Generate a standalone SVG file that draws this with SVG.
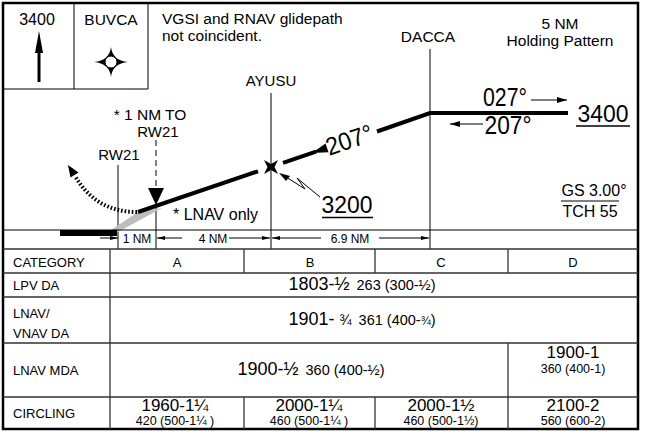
<svg xmlns="http://www.w3.org/2000/svg" width="649" height="436" viewBox="0 0 649 436">
<style>
text{font-family:"Liberation Sans",Arial,sans-serif;fill:#000}
.t15{font-size:15.5px}
.tbl{font-size:13px}
.big{font-size:17px}
.sm{font-size:12.5px}
.grid{stroke:#333;stroke-width:1.3;fill:none}
.thin{stroke:#000;stroke-width:1;fill:none}
.gp{stroke:#000;stroke-width:4;fill:none}
</style>
<defs>
<marker id="ah" viewBox="0 0 10 6" refX="10" refY="3" markerWidth="10" markerHeight="6" markerUnits="userSpaceOnUse" orient="auto"><path d="M0,0 L10,3 L0,6 Z" fill="#000"/></marker>
<marker id="ahs" viewBox="0 0 8 4" refX="8" refY="2" markerWidth="8" markerHeight="4" markerUnits="userSpaceOnUse" orient="auto"><path d="M0,0 L8,2 L0,4 Z" fill="#000"/></marker>
</defs>
<rect x="0" y="0" width="649" height="436" fill="#fff"/>
<rect x="3" y="3" width="635" height="426" fill="none" stroke="#000" stroke-width="2.5"/>

<g id="box-3400">
<path class="thin" d="M74,3 V89 M3,89 H148"/>
<text x="37" y="25" text-anchor="middle" font-size="16">3400</text>
<line x1="39" y1="82" x2="39" y2="48" stroke="#000" stroke-width="3"/>
<polygon points="39,31 35,53 43,53" fill="#000"/>
</g>
<g id="box-buvca">
<path class="thin" d="M148,3 V89"/>
<text class="t15" x="111" y="25" text-anchor="middle">BUVCA</text>
<path d="M111,47 Q112.5,60.5 128,62 Q112.5,63.5 111,77 Q109.5,63.5 94,62 Q109.5,60.5 111,47 Z" fill="#000"/>
<circle cx="111" cy="62" r="6" fill="#fff" stroke="#000" stroke-width="1"/>
</g>
<g id="note">
<text class="t15" x="162" y="24">VGSI and RNAV glidepath</text>
<text class="t15" x="162" y="41">not coincident.</text>
</g>
<g id="holding-note">
<text class="t15" x="560" y="29" text-anchor="middle">5 NM</text>
<text class="t15" x="560" y="46" text-anchor="middle">Holding Pattern</text>
</g>

<g id="connectors">
<path class="thin" d="M430,49 V249 M271,93 V249 M118,165 V249"/>
<path class="thin" d="M156,140 V188" stroke-dasharray="6 4"/>
<path class="thin" d="M156,205 V249"/>
<polygon points="148,188 164,188 156,205" fill="#000"/>
<polygon points="108,232 138,212 162,208 118,232" fill="#bdbdbd"/>
<rect x="60" y="230" width="57" height="6" fill="#000"/>
<path d="M137,212 Q96,212 75,176" fill="none" stroke="#000" stroke-width="4" stroke-dasharray="1.6 2"/>
<polygon points="68,165 78.5,172.5 70.5,177.5" fill="#000"/>
<line class="gp" x1="138" y1="212" x2="258" y2="171.3"/>
<line class="gp" x1="283" y1="162.8" x2="316" y2="151.6"/>
<polygon points="312,153 328.5,152.2 325.5,143.6" fill="#000"/>
<polyline class="gp" points="377,131.5 430,113 568,113"/>
<polyline class="thin" points="286,177 305,189 297,178 320,197"/>
<polygon points="279,173 290,176 286,181" fill="#000"/>
<line class="thin" x1="531" y1="100" x2="567" y2="100" stroke-width="1.5" marker-end="url(#ah)"/>
<line class="thin" x1="483" y1="124" x2="450" y2="124" stroke-width="1.5" marker-end="url(#ah)"/>
<line class="thin" x1="100" y1="238" x2="118" y2="238" marker-end="url(#ahs)"/>
<line class="thin" x1="182" y1="238" x2="157" y2="238" marker-end="url(#ahs)"/>
<line class="thin" x1="229" y1="238" x2="270" y2="238" marker-end="url(#ahs)"/>
<line class="thin" x1="321" y1="238" x2="272" y2="238" marker-end="url(#ahs)"/>
<line class="thin" x1="379" y1="238" x2="429" y2="238" marker-end="url(#ahs)"/>
</g>

<g id="fix-ayusu">
<text x="271" y="86" text-anchor="middle" font-size="15">AYUSU</text>
<polygon points="264,160 271,164 278,160 274.5,167 278,174 271,170 264,174 267.5,167" fill="#000"/>
</g>
<g id="fix-dacca">
<text x="428" y="42" text-anchor="middle" font-size="15.5">DACCA</text>
</g>
<g id="rw21">
<text x="119" y="160" text-anchor="middle" font-size="15">RW21</text>
</g>
<g id="vdp">
<text x="150" y="120" text-anchor="middle" font-size="15.5">* 1 NM TO</text>
<text x="158" y="137" text-anchor="middle" font-size="15">RW21</text>
</g>
<g id="labels">
<text x="173" y="220" font-size="16">* LNAV only</text>
<text x="352" y="148" text-anchor="middle" font-size="25" textLength="48" lengthAdjust="spacingAndGlyphs" transform="rotate(-18.7 352 148)">207°</text>
<text x="347" y="213" text-anchor="middle" font-size="24" textLength="51" lengthAdjust="spacingAndGlyphs">3200</text>
<line x1="322" y1="217.5" x2="373" y2="217.5" stroke="#000" stroke-width="1.3"/>
<text x="505" y="106" text-anchor="middle" font-size="26" textLength="44" lengthAdjust="spacingAndGlyphs">027°</text>
<text x="508" y="134" text-anchor="middle" font-size="25" textLength="47" lengthAdjust="spacingAndGlyphs">207°</text>
<text x="603" y="122" text-anchor="middle" font-size="24" textLength="51" lengthAdjust="spacingAndGlyphs">3400</text>
<line x1="576" y1="126" x2="630" y2="126" stroke="#000" stroke-width="1.3"/>
<text x="594" y="196" text-anchor="middle" font-size="16">GS 3.00°</text>
<line x1="561" y1="201" x2="619" y2="201" stroke="#000" stroke-width="1.2"/>
<text x="590" y="216.5" text-anchor="middle" font-size="16">TCH 55</text>
</g>

<g id="distances">
<path class="thin" d="M3,230 H638"/>
<text x="137" y="243" text-anchor="middle" font-size="12">1 NM</text>
<text x="213" y="243" text-anchor="middle" font-size="12">4 NM</text>
<text x="350" y="243" text-anchor="middle" font-size="12">6.9 NM</text>
</g>

<g id="minima-table">
<path class="grid" d="M3,249 H638 M3,273 H638 M3,297 H638 M3,343 H638 M3,397 H638 M110,249 V429 M244,249 V273 M375,249 V273 M508,249 V273 M508,343 V429 M244,397 V429 M375,397 V429"/>
<text class="tbl" x="13" y="267">CATEGORY</text>
<text class="tbl" x="177" y="267" text-anchor="middle">A</text>
<text class="tbl" x="310" y="267" text-anchor="middle">B</text>
<text class="tbl" x="441" y="267" text-anchor="middle">C</text>
<text class="tbl" x="573" y="267" text-anchor="middle">D</text>
<text class="tbl" x="13" y="290">LPV DA</text>
<text class="tbl" x="13" y="318">LNAV/</text>
<text class="tbl" x="13" y="338">VNAV  DA</text>
<text class="tbl" x="13" y="375">LNAV MDA</text>
<text class="tbl" x="13" y="418">CIRCLING</text>
<text x="362" y="290" text-anchor="middle"><tspan font-size="18">1803-½</tspan><tspan font-size="14.5" dx="7">263 (300-½)</tspan></text>
<text x="362" y="325" text-anchor="middle"><tspan font-size="18">1901-</tspan><tspan font-size="14.5" dx="5">¾</tspan><tspan font-size="14.5" dx="7">361 (400-</tspan><tspan font-size="12">¾</tspan><tspan font-size="14.5">)</tspan></text>
<text x="311" y="375" text-anchor="middle"><tspan font-size="18">1900-½</tspan><tspan font-size="14.5" dx="7">360 (400-½)</tspan></text>
<text class="big" x="573" y="358" text-anchor="middle">1900-1</text>
<text class="sm" x="573" y="373" text-anchor="middle">360 (400-1)</text>
<text class="big" x="175" y="411" text-anchor="middle">1960-1¼</text>
<text class="sm" x="175" y="425" text-anchor="middle">420 (500-1¼ )</text>
<text class="big" x="309" y="411" text-anchor="middle">2000-1¼</text>
<text class="sm" x="309" y="425" text-anchor="middle">460 (500-1¼ )</text>
<text class="big" x="441" y="411" text-anchor="middle">2000-1½</text>
<text class="sm" x="441" y="425" text-anchor="middle">460 (500-1½)</text>
<text class="big" x="573" y="411" text-anchor="middle">2100-2</text>
<text class="sm" x="573" y="425" text-anchor="middle">560 (600-2)</text>
</g>
</svg>
